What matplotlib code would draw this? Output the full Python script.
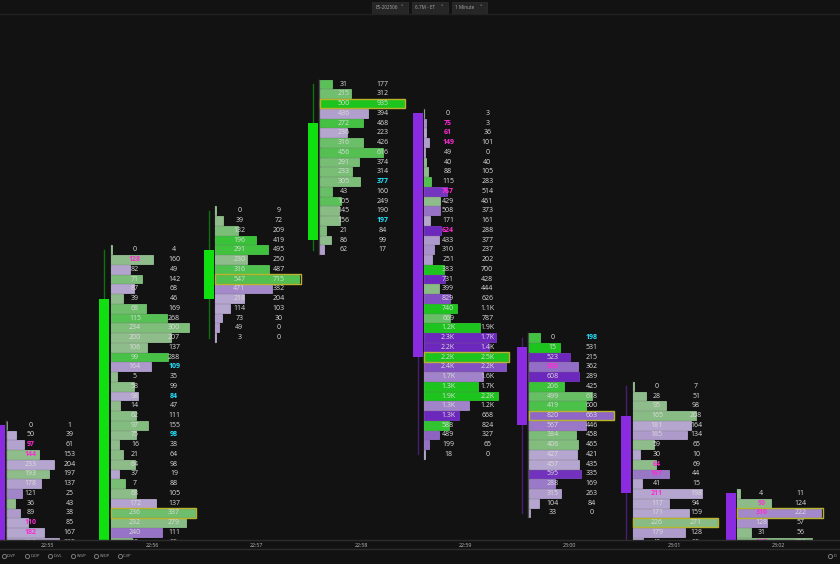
import numpy as np
import matplotlib.pyplot as plt
import matplotlib.transforms as mtransforms
from matplotlib.patches import Rectangle
from matplotlib.lines import Line2D

# footprint data, one list per 1-minute bar (rows from high to low, in ticks)
times = ["22:55", "22:56", "22:57", "22:58", "22:59", "23:00", "23:01", "23:02"]
highs = [35, 17, 13, 0, 3, 26, 31, 42]
opens = [35, 47, 22, 16, 3, 27, 34, 42]
closes = [47, 22, 17, 4, 28, 35, 42, 47]

bids = [
    [0, 50, 97, 144, 233, 193, 178, 121, 36, 89, 110, 182, 260, 420],
    [0, 128, 82, 71, 87, 39, 68, 115, 234, 200, 106, 99, 164, 5, 58, 98, 14, 62, 97, 75,
     16, 21, 64, 37, 7, 68, 172, 236, 232, 240, 60],
    [0, 39, 132, 196, 291, 230, 316, 547, 471, 218, 114, 73, 49, 3],
    [31, 215, 500, 436, 272, 236, 316, 456, 291, 233, 305, 43, 105, 145, 156, 21, 86, 62],
    [0, 75, 61, 149, 49, 40, 88, 115, 767, 429, 508, 171, 624, 433, 310, 251, 383, 731,
     399, 829, 740, 669, 1200, 2300, 2200, 2200, 2400, 1700, 1300, 1900, 1300, 1300,
     588, 489, 199, 18],
    [0, 15, 523, 505, 608, 206, 499, 419, 820, 567, 384, 406, 427, 457, 595, 288, 315, 104, 33],
    [0, 28, 95, 165, 181, 185, 59, 30, 64, 167, 41, 211, 117, 171, 226, 179, 40],
    [4, 90, 310, 128, 31, 217],
]
asks = [
    [1, 39, 61, 153, 204, 197, 137, 25, 43, 38, 85, 167, 225, 360],
    [4, 160, 49, 142, 68, 46, 169, 268, 300, 207, 137, 288, 109, 35, 99, 84, 47, 111, 155, 98,
     38, 64, 98, 19, 88, 105, 137, 337, 279, 111, 85],
    [9, 72, 209, 419, 495, 250, 487, 715, 382, 204, 103, 30, 0, 0],
    [177, 312, 935, 394, 468, 223, 426, 616, 374, 314, 377, 160, 249, 190, 197, 84, 99, 17],
    [3, 3, 36, 101, 0, 40, 105, 283, 514, 461, 373, 161, 288, 377, 237, 202, 700, 428,
     444, 626, 1100, 787, 1900, 1700, 1400, 2500, 2200, 1600, 1700, 2200, 1200, 668,
     824, 327, 65, 0],
    [198, 531, 215, 362, 289, 425, 618, 600, 663, 446, 458, 465, 421, 435, 335, 169, 263, 84, 0],
    [7, 51, 98, 208, 164, 134, 65, 10, 69, 44, 15, 198, 94, 159, 271, 128, 20],
    [11, 124, 222, 57, 56, 258],
]
# imbalance highlights (row index inside the bar)
bid_marks = [[2, 3, 10, 11], [1], [], [], [1, 2, 3, 8, 12], [3], [8, 9, 11], [1, 2, 5]]
ask_marks = [[], [12, 15, 19], [], [10, 14], [], [0], [], []]

BG = "#121212"
COL_W = 104.4
BAR_MAX = 84 / COL_W
Y_BOTTOM = 46.77


def mix(c1, c2, t):
    return tuple((a + (b - a) * t) / 255 for a, b in zip(c1, c2))


def bar_color(b, a):
    d = a - b
    t = min(max((abs(d) - 30) / 250, 0), 1)
    if d >= 0:
        return mix((143, 188, 139), (30, 196, 30), t)
    return mix((180, 166, 206), (108, 40, 188), t)


def fmt(v):
    return f"{v / 1000:.1f}K" if v >= 1000 else str(v)


plt.rcParams['font.family'] = ['Open Sans', 'DejaVu Sans']
fig = plt.figure(figsize=(8.4, 5.64), dpi=100, facecolor=BG)
ax = fig.add_axes([0, 24 / 564, 1, 525 / 564])
ax.set_facecolor(BG)
left = -6 / COL_W
ax.set_xlim(left, left + 840 / COL_W)
ax.set_ylim(Y_BOTTOM, -7.08)
ax.axis("off")

for i in range(len(times)):
    b = np.array(bids[i])
    a = np.array(asks[i])
    tot = b + a
    rows = highs[i] + np.arange(len(b))
    low = rows[-1]
    up = opens[i] > closes[i]
    ccol = "#10e010" if up else "#8a2be2"

    # candle
    ax.plot([i - 0.057, i - 0.057], [highs[i], low], color=ccol, lw=1, alpha=0.45, zorder=1)
    ax.bar(i - 0.057, abs(opens[i] - closes[i]), bottom=min(opens[i], closes[i]),
           width=0.096, color=ccol, zorder=2)
    # footprint base line
    ax.plot([i + 0.002, i + 0.002], [highs[i] - 0.45, low + 0.45], color="#4a4a4a", lw=1, zorder=1)

    lengths = tot / tot.max() * BAR_MAX
    colors = [bar_color(x, y) for x, y in zip(b, a)]
    edges = [tuple(min(c + 0.08, 1) for c in col) for col in colors]
    ax.barh(rows, lengths, left=i + 0.006, height=0.88, color=colors, edgecolor=edges,
            linewidth=0.5, zorder=3)

    poc = int(np.argmax(tot))
    ax.add_patch(Rectangle((i + 0.006, rows[poc] - 0.48), BAR_MAX + 0.012, 0.96,
                           fill=False, edgecolor="#b8b42c", lw=1, zorder=4))

    for k in range(len(b)):
        if rows[k] - 0.4 > Y_BOTTOM:
            continue  # label lies below the visible price range
        bc, bw = ("#ff2bd6", "bold") if k in bid_marks[i] else ("#dcdcdc", "normal")
        ac, aw = ("#22e4ff", "bold") if k in ask_marks[i] else ("#dcdcdc", "normal")
        ax.text(i + 0.235, rows[k], fmt(b[k]), ha="center", va="center", fontsize=5,
                color=bc, fontweight=bw, zorder=5, clip_on=True)
        ax.text(i + 0.61, rows[k], fmt(a[k]), ha="center", va="center", fontsize=5,
                color=ac, fontweight=aw, zorder=5, clip_on=True)

# time axis
trans = mtransforms.blended_transform_factory(ax.transData, fig.transFigure)
for i, t in enumerate(times):
    ax.text(i + 0.40, 0.0324, t, transform=trans, ha="center", va="center",
            fontsize=3.8, color="#bbbbbb", clip_on=False)
for yy in [24 / 564, 15 / 564]:
    fig.add_artist(Line2D([0, 1], [yy, yy], color="#2c2c2c", lw=1, transform=fig.transFigure))
fig.add_artist(Line2D([0, 1], [1 - 14 / 564, 1 - 14 / 564], color="#222222", lw=1,
                      transform=fig.transFigure))

# bottom toggles
for j, lab in enumerate(["D-VP", "D-DP", "D-VL", "W-VP", "W-DP", "C-VP"]):
    x = (3.5 + 23.2 * j) / 840
    fig.add_artist(Line2D([x], [0.0147], marker="o", mfc="none", mec="#888888", ms=3.0,
                          mew=0.6, transform=fig.transFigure))
    fig.text(x + 3.5 / 840, 0.0147, lab, ha="left", va="center", fontsize=2.9, color="#aaaaaa")
fig.add_artist(Line2D([830 / 840], [0.0147], marker="o", mfc="none", mec="#888888", ms=3.0,
                      mew=0.6, transform=fig.transFigure))
fig.text(834 / 840, 0.0147, "D", ha="left", va="center", fontsize=2.9, color="#aaaaaa")

# top toolbar
for x0, w, lab in [(372, 36, "ES-202506"), (412, 36, "6.7M - ET"), (452, 35, "1 Minute")]:
    fig.add_artist(Rectangle((x0 / 840, 1 - 12.5 / 564), w / 840, 10.5 / 564,
                             facecolor="#262626", edgecolor="#303030", lw=0.5,
                             transform=fig.transFigure))
    fig.text((x0 + 3) / 840, 1 - 7.3 / 564, lab, ha="left", va="center", fontsize=3.3,
             color="#aaaaaa")
    fig.text((x0 + w - 6) / 840, 1 - 7.3 / 564, "˅", ha="center", va="center", fontsize=3.5,
             color="#aaaaaa", family="DejaVu Sans")

fig.savefig("out.png", dpi=100, facecolor=BG)
